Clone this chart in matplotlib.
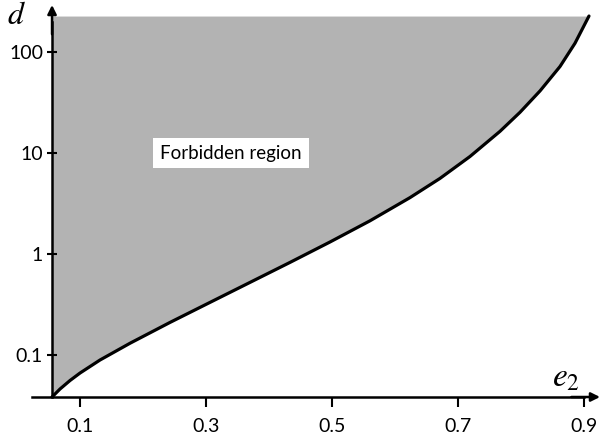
import numpy as np
import matplotlib
matplotlib.use("Agg")
import matplotlib.pyplot as plt

# boundary curve (e2, d)
e2 = [0.0556, 0.0683, 0.0841, 0.1, 0.1317, 0.1794, 0.2429, 0.3063, 0.3698, 0.4333,
      0.4968, 0.5603, 0.6238, 0.6714, 0.7190, 0.7667, 0.7984, 0.8302, 0.8619, 0.8857,
      0.9079]
d = [0.0384, 0.0461, 0.0559, 0.0663, 0.0892, 0.1308, 0.2103, 0.3318, 0.5234, 0.8257,
     1.315, 2.132, 3.617, 5.604, 9.234, 16.40, 25.29, 41.19, 71.84, 122.1,
     227]

xticks = [0.1, 0.3, 0.5, 0.7, 0.9]
xticklabels = ["0.1", "0.3", "0.5", "0.7", "0.9"]
yticks = [0.1, 1, 10, 100]
yticklabels = ["0.1", "1", "10", "100"]

x_axis = 0.0556    # where the d axis crosses
d_top = 227        # top of the shaded region
xlim = (0.0238, 0.9254)
ylim = (0.0384, 292)

plt.rcParams["mathtext.fontset"] = "stix"

fig = plt.figure(figsize=(6.11, 4.44), dpi=100)
ax = fig.add_axes([32 / 611, 47 / 444, 568 / 611, 392 / 444])
ax.set_yscale("log")
ax.set_xlim(*xlim)
ax.set_ylim(*ylim)

ax.fill_between(e2, d, d_top, color="#b3b3b3", lw=0, zorder=1)
ax.plot(e2, d, color="black", lw=2.3, zorder=3, solid_capstyle="round",
        solid_joinstyle="round")

# axes
for s in ["top", "right"]:
    ax.spines[s].set_visible(False)
ax.spines["left"].set_position(("data", x_axis))
ax.spines["left"].set_linewidth(1.8)
ax.spines["bottom"].set_linewidth(1.8)
ax.spines["left"].set_bounds(ylim[0], 200)
ax.spines["bottom"].set_bounds(xlim[0], 0.9)
ax.annotate("", xy=(x_axis, ylim[1]), xytext=(x_axis, 150),
            arrowprops=dict(arrowstyle="-|>", color="black", lw=1.8, mutation_scale=13,
                            shrinkA=0, shrinkB=0), annotation_clip=False)
ax.annotate("", xy=(xlim[1], ylim[0]), xytext=(0.88, ylim[0]),
            arrowprops=dict(arrowstyle="-|>", color="black", lw=1.8, mutation_scale=13,
                            shrinkA=0, shrinkB=0), annotation_clip=False)

ax.set_xticks(xticks)
ax.set_xticklabels(xticklabels)
ax.set_yticks(yticks)
ax.set_yticklabels(yticklabels)
ax.minorticks_off()
ax.tick_params(axis="x", direction="out", length=7, width=1.5, pad=8, labelsize=14)
ax.tick_params(axis="y", direction="inout", length=7, width=1.5, pad=3, labelsize=14)
for lab in ax.get_xticklabels() + ax.get_yticklabels():
    lab.set_fontfamily("Lato")

ax.text(0.34, 10, "Forbidden region", fontsize=13.5, family="Lato", ha="center", va="center",
        bbox=dict(facecolor="white", edgecolor="none", pad=5), zorder=4)

fig.text(16 / 611, 1 - 15 / 444, r"$d$", fontsize=23, ha="center", va="center")
fig.text(566 / 611, 1 - 377 / 444, r"$e_2$", fontsize=24, ha="center", va="center")

fig.savefig("out.png", dpi=100)
